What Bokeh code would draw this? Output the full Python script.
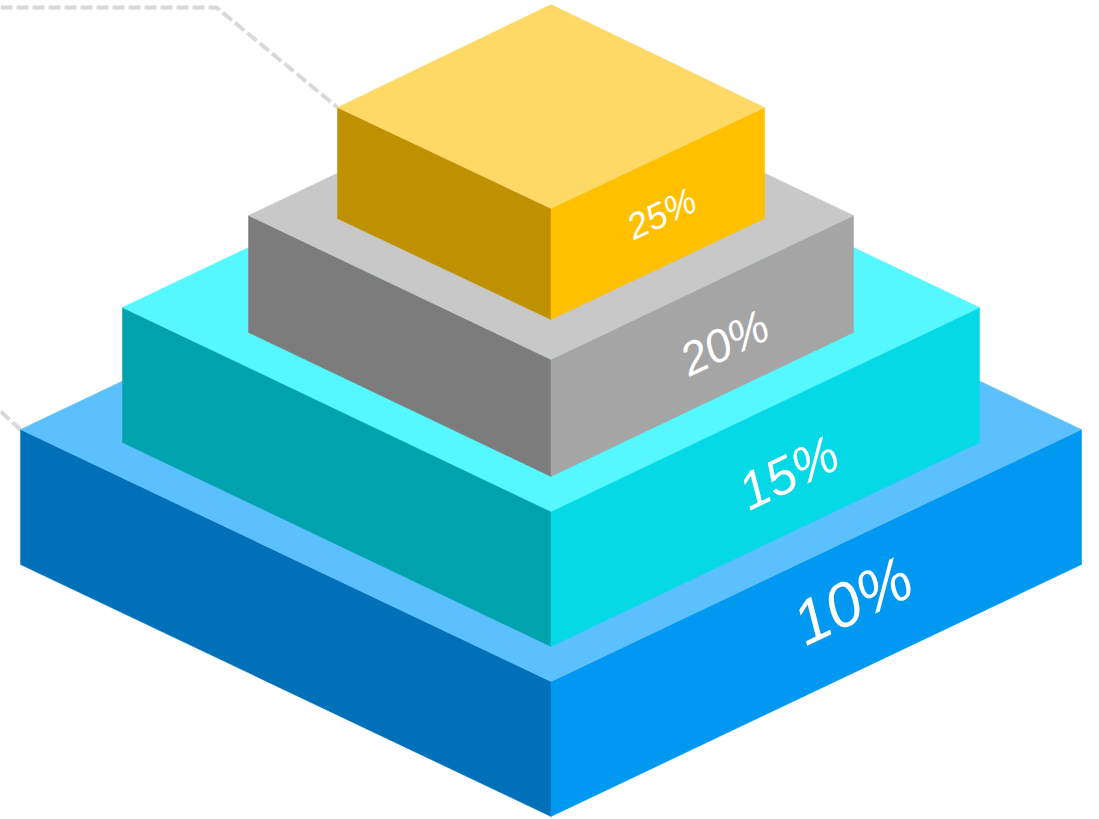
from bokeh.plotting import figure
from bokeh.models import ColumnDataSource, Range1d
from bokeh.core.properties import value
from bokeh.embed import file_html
from bokeh.resources import INLINE
import math

# Layers, bottom to top
labels = ["10%", "15%", "20%", "25%"]
half_widths = [530.5, 428.5, 302.5, 213.5]
front_depths = [252, 204, 144, 101]
back_depths = [252, 204, 144, 103]
side_y = [429, 307, 215, 107]
heights = [135, 135, 117, 111]
centre_x = 550.5

left_colors = ["#0070b8", "#00a3ad", "#7c7c7c", "#bf9000"]
right_colors = ["#0098f0", "#05d9e6", "#a5a5a5", "#ffc000"]
top_colors = ["#5cc0ff", "#55f8ff", "#c8c8c8", "#ffd966"]

label_x = [852, 788, 724, 661]
label_y = [600, 472, 342, 213]
label_sizes = [62, 52, 46, 36]

leader_upper_x = [0, 216, 337]
leader_upper_y = [7, 7, 107]
leader_lower_x = [0, 20]
leader_lower_y = [411, 429]

W, H = 1099, 819
p = figure(width=W, height=H, x_range=Range1d(0, W), y_range=Range1d(H, 0),
           output_backend="svg", toolbar_location=None, min_border=0,
           outline_line_color=None, background_fill_color="white",
           border_fill_color="white")
p.axis.visible = False
p.grid.visible = False

for xs, ys in ((leader_upper_x, leader_upper_y), (leader_lower_x, leader_lower_y)):
    p.line(xs, ys, line_color="#d9d9d9", line_width=4, line_dash="12 4")

for hw, fd, bd, sy, h, lc, rc, tc in zip(half_widths, front_depths, back_depths, side_y, heights,
                                         left_colors, right_colors, top_colors):
    cx = centre_x
    xl, xr = cx - hw, cx + hw
    front = sy + fd
    back = sy - bd
    src = ColumnDataSource(dict(
        xs=[[xl, cx, cx, xl], [cx, xr, xr, cx], [xl, cx, xr, cx]],
        ys=[[sy, front, front + h, sy + h], [front, sy, sy + h, front + h],
            [sy, back, sy, front]],
        c=[lc, rc, tc],
    ))
    p.patches("xs", "ys", source=src, fill_color="c", line_color="c", line_width=0.5)

angle = math.atan2(front_depths[0], half_widths[0])
for t, x, y, s in zip(labels, label_x, label_y, label_sizes):
    p.text([x], [y], text=[t], angle=angle, text_color="white",
           text_font=value("Liberation Sans"), text_font_style="italic",
           text_font_size=value(f"{s}px"), text_align="center", text_baseline="middle")

open("out.html", "w").write(file_html(p, INLINE))
